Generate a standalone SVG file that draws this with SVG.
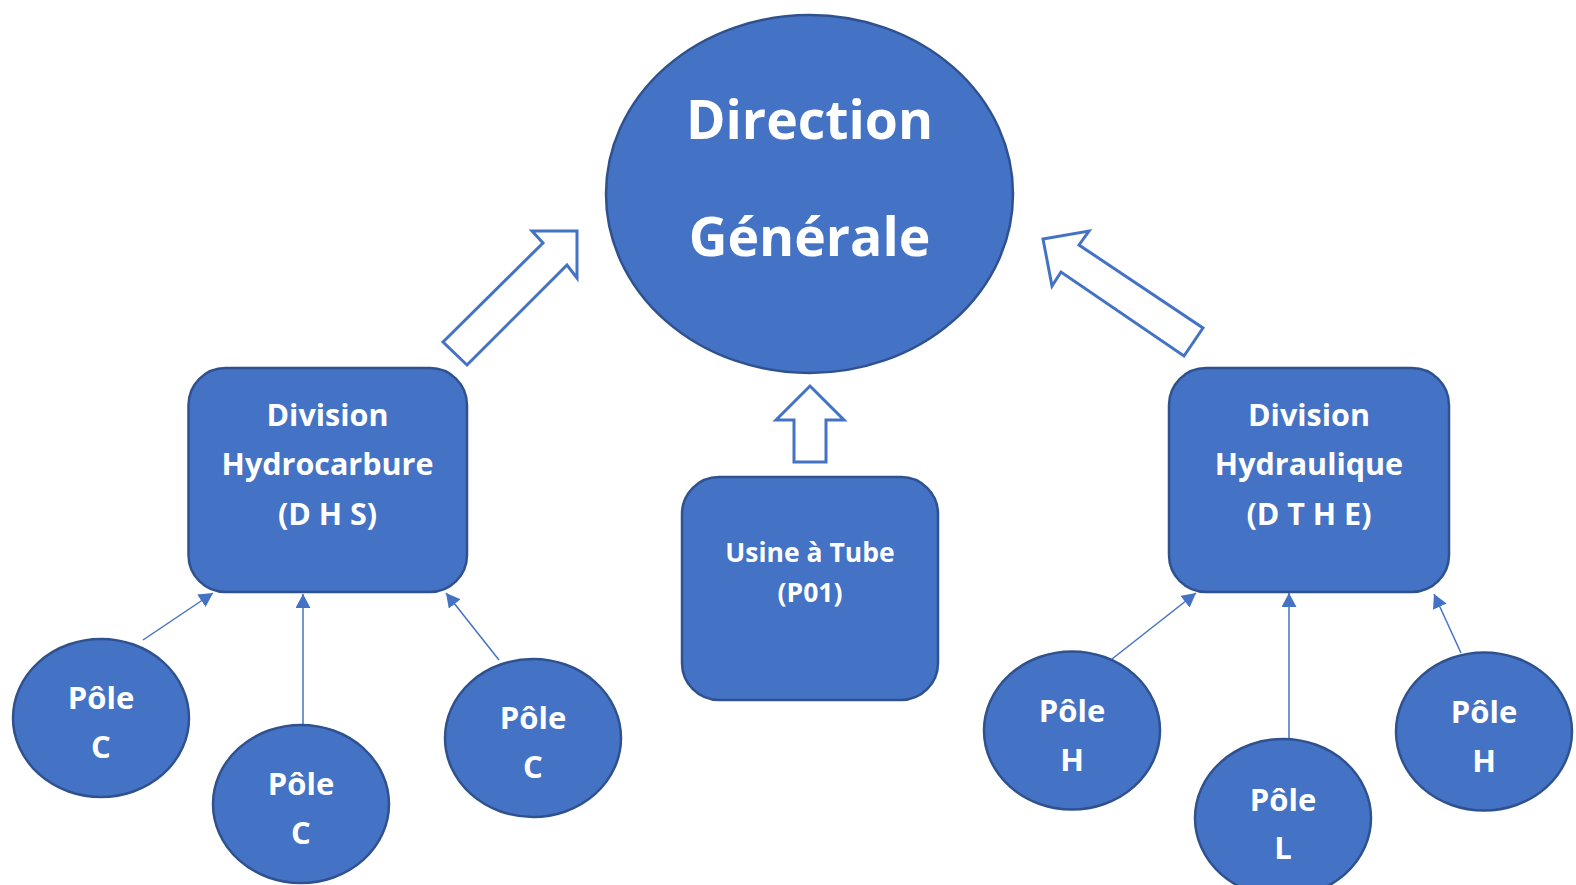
<svg xmlns="http://www.w3.org/2000/svg" width="1576" height="885" viewBox="0 0 1576 885">
  <defs>
    <style>
      .shape { fill: #4472C4; stroke: #2F528F; stroke-width: 2.5; }
      .block { fill: #FFFFFF; stroke: #4472C4; stroke-width: 3; stroke-linejoin: miter; }
      .link { stroke: #4472C4; stroke-width: 1.5; fill: none; marker-end: url(#head); }
      .lbl { fill: #FFFFFF; font-family: "Open Sans", "Liberation Sans", sans-serif; font-weight: bold; text-anchor: middle; }
      .big { font-size: 53.5px; }
      .mid { font-size: 30.5px; }
      .sm { font-size: 26.5px; }
      .pole { font-size: 31px; }
    </style>
    <marker id="head" markerUnits="userSpaceOnUse" markerWidth="15" markerHeight="15" refX="14" refY="7.5" orient="auto">
      <path d="M0,0 L14,7.5 L0,15 z" fill="#4472C4"/>
    </marker>
  </defs>

  <rect width="1576" height="885" fill="#FFFFFF"/>

  <!-- block arrows and connectors -->
  <g id="connectors">
    <polygon class="block" points="443,342 543,243 532,231 577,231 577,278 567,265 467,365"/>
    <polygon class="block" points="1043,239 1089,231 1079,245 1203,328 1184,356 1061,272 1052,286"/>
    <polygon class="block" points="810,386 844,420 826,420 826,462 794,462 794,420 776,420"/>

    <line class="link" x1="143" y1="640" x2="213" y2="593"/>
    <line class="link" x1="303" y1="725" x2="303" y2="594"/>
    <line class="link" x1="499" y1="660" x2="446" y2="593"/>

    <line class="link" x1="1112" y1="659" x2="1196" y2="593"/>
    <line class="link" x1="1289" y1="739" x2="1289" y2="593"/>
    <line class="link" x1="1461" y1="653" x2="1434" y2="594"/>
  </g>

  <g id="direction">
    <ellipse class="shape" cx="809.5" cy="194" rx="203.5" ry="179"/>
    <text class="lbl big" x="809.5" y="139">Direction</text>
    <text class="lbl big" x="809.5" y="256">Générale</text>
  </g>

  <g id="division-dhs">
    <rect class="shape" x="188.5" y="368" width="278.5" height="224" rx="37" ry="37"/>
    <text class="lbl mid" x="327.5" y="426">Division</text>
    <text class="lbl mid" x="327.5" y="475">Hydrocarbure</text>
    <text class="lbl mid" x="327.5" y="525">(D H S)</text>
  </g>

  <g id="usine-tube">
    <rect class="shape" x="682" y="477" width="256" height="223" rx="37" ry="37"/>
    <text class="lbl sm" x="810" y="562">Usine à Tube</text>
    <text class="lbl sm" x="810" y="602">(P01)</text>
  </g>

  <g id="division-dthe">
    <rect class="shape" x="1169" y="368" width="280" height="224" rx="37" ry="37"/>
    <text class="lbl mid" x="1309" y="426">Division</text>
    <text class="lbl mid" x="1309" y="475">Hydraulique</text>
    <text class="lbl mid" x="1309" y="525">(D T H E)</text>
  </g>

  <g id="pole-c1">
    <ellipse class="shape" cx="101" cy="718" rx="88" ry="79"/>
    <text class="lbl pole" x="101" y="709">Pôle</text>
    <text class="lbl pole" x="101" y="758">C</text>
  </g>

  <g id="pole-c2">
    <ellipse class="shape" cx="301" cy="804" rx="88" ry="79"/>
    <text class="lbl pole" x="301" y="795">Pôle</text>
    <text class="lbl pole" x="301" y="844">C</text>
  </g>

  <g id="pole-c3">
    <ellipse class="shape" cx="533" cy="738" rx="88" ry="79"/>
    <text class="lbl pole" x="533" y="729">Pôle</text>
    <text class="lbl pole" x="533" y="778">C</text>
  </g>

  <g id="pole-h1">
    <ellipse class="shape" cx="1072" cy="730.5" rx="88" ry="79"/>
    <text class="lbl pole" x="1072" y="722">Pôle</text>
    <text class="lbl pole" x="1072" y="771">H</text>
  </g>

  <g id="pole-l">
    <ellipse class="shape" cx="1283" cy="818" rx="88" ry="79"/>
    <text class="lbl pole" x="1283" y="811">Pôle</text>
    <text class="lbl pole" x="1283" y="859">L</text>
  </g>

  <g id="pole-h2">
    <ellipse class="shape" cx="1484" cy="731.5" rx="88" ry="79"/>
    <text class="lbl pole" x="1484" y="723">Pôle</text>
    <text class="lbl pole" x="1484" y="772">H</text>
  </g>
</svg>
